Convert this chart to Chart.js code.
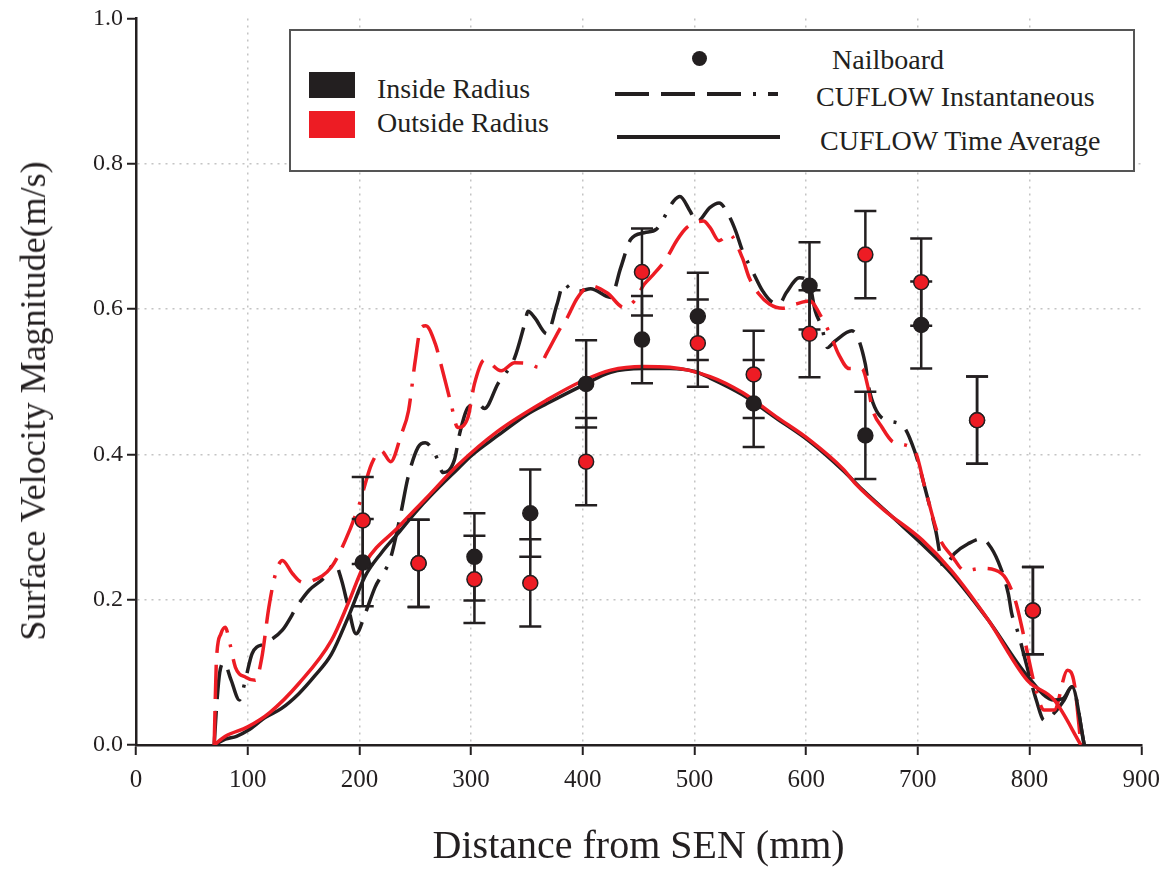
<!DOCTYPE html>
<html>
<head>
<meta charset="utf-8">
<script src="https://cdn.jsdelivr.net/npm/chart.js@4"></script>
<style>
  body { margin: 0; background: #fff; }
  #wrap { position: relative; width: 1170px; height: 873px; }
  #legend {
    position: absolute; left: 289px; top: 29px; width: 842px; height: 139px;
    border: 2px solid #555; background: #fff;
    font-family: "Liberation Serif", "DejaVu Serif", serif; font-size: 28px; color: #231f20;
  }
  #legend .item { position: absolute; white-space: nowrap; line-height: 1; }
  #legend .sw { position: absolute; }
  #ytitle {
    position: absolute; left: 33px; top: 401px; white-space: nowrap; line-height: 1;
    font-family: "Liberation Serif", "DejaVu Serif", serif; font-size: 36px; color: #231f20;
    transform: translate(-50%, -50%) rotate(-90deg);
  }
</style>
</head>
<body>
<div id="wrap">
  <canvas id="chart" width="1170" height="873"></canvas>
  <div id="ytitle">Surface Velocity Magnitude(m/s)</div>
  <div id="legend">
    <div class="sw" style="left:18px;top:41px;width:46px;height:26px;background:#231f20"></div>
    <div class="item" style="left:86px;top:44px">Inside Radius</div>
    <div class="sw" style="left:18px;top:80px;width:46px;height:27px;background:#ed1c24"></div>
    <div class="item" style="left:86px;top:78px">Outside Radius</div>

    <div class="sw" style="left:401px;top:20px;width:15px;height:15px;border-radius:50%;background:#231f20"></div>
    <div class="item" style="left:541px;top:15px">Nailboard</div>
    <svg class="sw" style="left:322px;top:58px" width="170" height="10">
      <line x1="2" y1="5" x2="165" y2="5" stroke="#231f20" stroke-width="4" stroke-dasharray="34 12 34 12 34 12 3 12"/>
    </svg>
    <div class="item" style="left:525px;top:52px">CUFLOW Instantaneous</div>
    <svg class="sw" style="left:324px;top:101px" width="170" height="10">
      <line x1="2" y1="5" x2="165" y2="5" stroke="#231f20" stroke-width="4"/>
    </svg>
    <div class="item" style="left:529px;top:96px">CUFLOW Time Average</div>
  </div>
</div>
<script>
// --- Data --- //
const nailX = [203, 253, 303, 353, 403, 453, 503, 553, 603, 653, 703, 753, 803];
const nailInsideY = [0.251, 0.25, 0.259, 0.319, 0.497, 0.558, 0.59, 0.47, 0.632, 0.426, 0.578, 0.447, 0.185];
const nailOutsideY = [0.309, 0.25, 0.228, 0.223, 0.39, 0.651, 0.553, 0.51, 0.566, 0.675, 0.637, 0.447, 0.185];
const nailInsideErr = [0.06, 0.06, 0.06, 0.06, 0.06, 0.06, 0.06, 0.06, 0.06, 0.06, 0.06, 0.06, 0.06];
const nailOutsideErr = [0.06, 0.06, 0.06, 0.06, 0.06, 0.06, 0.06, 0.06, 0.06, 0.06, 0.06, 0.06, 0.06];

const avgInsideX = [70, 80, 90, 100, 116, 130, 146, 160, 175, 190, 205, 220, 235, 250, 265, 288, 300, 324, 350, 368, 400, 425, 454, 478, 500, 514, 543, 573, 603, 633, 650, 680, 704, 730, 763, 798, 822, 830, 838, 849];
const avgInsideY = [0, 0.008, 0.012, 0.02, 0.038, 0.05, 0.071, 0.095, 0.125, 0.176, 0.232, 0.265, 0.292, 0.32, 0.345, 0.38, 0.398, 0.426, 0.455, 0.47, 0.495, 0.513, 0.518, 0.518, 0.514, 0.505, 0.482, 0.45, 0.418, 0.378, 0.352, 0.31, 0.276, 0.236, 0.172, 0.095, 0.062, 0.064, 0.08, 0];

const avgOutsideX = [70, 80, 100, 120, 146, 175, 190, 205, 235, 260, 288, 324, 368, 401, 425, 454, 478, 514, 543, 573, 603, 633, 644, 670, 704, 730, 763, 798, 822, 846];
const avgOutsideY = [0, 0.012, 0.025, 0.045, 0.085, 0.144, 0.195, 0.25, 0.3, 0.34, 0.385, 0.432, 0.475, 0.502, 0.516, 0.521, 0.52, 0.507, 0.485, 0.452, 0.42, 0.38, 0.36, 0.323, 0.282, 0.24, 0.172, 0.089, 0.062, 0];

const instInsideX = [70, 72, 75, 79, 85, 92.6, 98, 104, 116, 131, 146, 155, 169, 178, 184, 190, 197, 205, 214, 228, 237, 243.5, 252.6, 259, 267.9, 275, 285, 290, 297, 306, 312, 324, 339, 348, 351, 357, 368, 377, 383, 391, 398, 407, 425, 434, 443, 455, 466, 481.5, 487, 496, 502, 514, 522, 531, 537, 543, 552, 561, 570, 576, 582, 594, 603, 608, 614, 619, 626, 641, 653, 656, 668, 686, 697, 707, 716, 723, 733, 745, 757, 763, 772, 781, 784, 789, 801, 806, 813, 822, 831, 838, 849];
const instInsideY = [0, 0.05, 0.1, 0.113, 0.09, 0.062, 0.09, 0.126, 0.14, 0.158, 0.195, 0.213, 0.231, 0.25, 0.227, 0.19, 0.153, 0.18, 0.217, 0.258, 0.318, 0.368, 0.41, 0.416, 0.4, 0.375, 0.392, 0.43, 0.464, 0.47, 0.463, 0.497, 0.533, 0.58, 0.597, 0.588, 0.566, 0.607, 0.635, 0.625, 0.625, 0.628, 0.616, 0.657, 0.696, 0.705, 0.71, 0.749, 0.755, 0.735, 0.72, 0.74, 0.746, 0.728, 0.707, 0.68, 0.652, 0.625, 0.609, 0.607, 0.622, 0.643, 0.634, 0.598, 0.575, 0.547, 0.556, 0.57, 0.524, 0.492, 0.45, 0.44, 0.405, 0.35, 0.295, 0.245, 0.264, 0.277, 0.284, 0.277, 0.252, 0.208, 0.181, 0.158, 0.089, 0.062, 0.034, 0.044, 0.062, 0.08, 0];

const instOutsideX = [70, 72, 76, 80, 84, 89, 98.5, 107, 112.6, 119, 125, 131, 140, 149, 158, 175, 187.5, 199, 211, 219.5, 228, 237.6, 244, 250, 255, 259.5, 268, 273, 282, 288, 297, 303, 312, 327, 339, 354, 360, 368, 380, 386, 395, 407, 422, 437, 446, 455, 463.5, 475, 484, 493, 508, 514, 522, 531, 543, 549, 557.5, 567, 579, 591, 603, 614, 623, 629, 638.5, 650, 656, 659, 668, 678, 697, 707, 719, 731, 742, 757, 775, 787, 795, 805, 813, 822, 834, 840, 846];
const instOutsideY = [0, 0.116, 0.153, 0.162, 0.14, 0.107, 0.093, 0.089, 0.12, 0.19, 0.236, 0.254, 0.236, 0.224, 0.226, 0.245, 0.282, 0.327, 0.387, 0.405, 0.39, 0.428, 0.46, 0.529, 0.574, 0.577, 0.552, 0.524, 0.47, 0.437, 0.45, 0.497, 0.53, 0.515, 0.526, 0.524, 0.52, 0.54, 0.574, 0.588, 0.615, 0.632, 0.622, 0.602, 0.611, 0.634, 0.648, 0.67, 0.694, 0.712, 0.721, 0.712, 0.694, 0.703, 0.67, 0.643, 0.621, 0.607, 0.601, 0.607, 0.611, 0.588, 0.56, 0.538, 0.518, 0.518, 0.488, 0.464, 0.437, 0.417, 0.405, 0.35, 0.286, 0.259, 0.24, 0.243, 0.236, 0.2, 0.149, 0.08, 0.048, 0.048, 0.103, 0.085, 0];

const BLACK = '#231f20';
const RED = '#ed1c24';
const SERIF = '"Liberation Serif", "DejaVu Serif", serif';

const toPoints = (xs, ys) => xs.map((x, i) => ({ x: x, y: ys[i] }));

// error bars drawn just before the first nailboard set, so they sit over the lines but under the dots
const errorBars = {
    id: 'errorBars',
    beforeDatasetDraw(chart, args) {
        const first = chart.data.datasets.findIndex(d => d.errors);
        if (args.index !== first) return;
        const xs = chart.scales.x, ys = chart.scales.y;
        const ctx = chart.ctx;
        ctx.save();
        ctx.strokeStyle = BLACK;
        ctx.lineWidth = 2.5;
        chart.data.datasets.forEach(ds => {
            if (!ds.errors) return;
            ds.data.forEach((p, i) => {
                const px = xs.getPixelForValue(p.x);
                const top = ys.getPixelForValue(p.y + ds.errors[i]);
                const bot = ys.getPixelForValue(p.y - ds.errors[i]);
                ctx.beginPath();
                ctx.moveTo(px, top); ctx.lineTo(px, bot);
                ctx.moveTo(px - 11, top); ctx.lineTo(px + 11, top);
                ctx.moveTo(px - 11, bot); ctx.lineTo(px + 11, bot);
                ctx.stroke();
            });
        });
        ctx.restore();
    }
};

const instDash = [34, 12, 34, 12, 34, 12, 3, 12];

new Chart(document.getElementById('chart'), {
    type: 'line',
    data: {
        datasets: [
            {
                label: 'Inside Instantaneous',
                data: toPoints(instInsideX, instInsideY),
                borderColor: BLACK, borderWidth: 3.5, borderDash: instDash,
                pointRadius: 0, cubicInterpolationMode: 'monotone', order: 5
            },
            {
                label: 'Outside Instantaneous',
                data: toPoints(instOutsideX, instOutsideY),
                borderColor: RED, borderWidth: 3.5, borderDash: instDash,
                pointRadius: 0, cubicInterpolationMode: 'monotone', order: 4
            },
            {
                label: 'Inside Time Average',
                data: toPoints(avgInsideX, avgInsideY),
                borderColor: BLACK, borderWidth: 3.5,
                pointRadius: 0, cubicInterpolationMode: 'monotone', order: 3
            },
            {
                label: 'Outside Time Average',
                data: toPoints(avgOutsideX, avgOutsideY),
                borderColor: RED, borderWidth: 3.5,
                pointRadius: 0, cubicInterpolationMode: 'monotone', order: 2
            },
            {
                label: 'Inside Nailboard',
                data: toPoints(nailX, nailInsideY),
                errors: nailInsideErr,
                showLine: false,
                pointRadius: 7.5, pointBackgroundColor: BLACK, pointBorderColor: BLACK, pointBorderWidth: 1.5,
                order: 1
            },
            {
                label: 'Outside Nailboard',
                data: toPoints(nailX, nailOutsideY),
                errors: nailOutsideErr,
                showLine: false,
                pointRadius: 7.5, pointBackgroundColor: RED, pointBorderColor: BLACK, pointBorderWidth: 1.5,
                order: 0
            }
        ]
    },
    options: {
        responsive: false,
        animation: false,
        layout: { padding: { top: 17, right: 23, left: 0, bottom: 0 } },
        plugins: {
            legend: { display: false },
            tooltip: { enabled: false }
        },
        scales: {
            x: {
                type: 'linear',
                min: 0, max: 900,
                afterFit(scale) { scale.height = 128; },
                ticks: {
                    stepSize: 100, color: BLACK, padding: 10,
                    font: { family: SERIF, size: 25 }
                },
                grid: {
                    color: ctx => (ctx.tick && (ctx.tick.value === 0 || ctx.tick.value === 900)) ? 'rgba(0,0,0,0)' : '#c4c4c4',
                    lineWidth: 1.5,
                    tickColor: BLACK, tickWidth: 2, tickLength: 10, tickBorderDash: []
                },
                border: { color: BLACK, width: 2.5, dash: [2, 5] },
                title: {
                    display: true, text: 'Distance from SEN (mm)', color: BLACK,
                    font: { family: SERIF, size: 40 }, padding: { top: 0, bottom: 2 }
                }
            },
            y: {
                min: 0, max: 1,
                afterFit(scale) { scale.width = 136; },
                ticks: {
                    stepSize: 0.2, color: BLACK, padding: 4,
                    font: { family: SERIF, size: 24 },
                    callback: v => v.toFixed(1)
                },
                grid: {
                    color: ctx => (ctx.tick && (ctx.tick.value === 0 || ctx.tick.value === 1)) ? 'rgba(0,0,0,0)' : '#c4c4c4',
                    lineWidth: 1.5,
                    tickColor: BLACK, tickWidth: 2, tickLength: 9, tickBorderDash: []
                },
                border: { color: BLACK, width: 2.5, dash: [2, 5] },
                title: { display: false }
            }
        }
    },
    plugins: [errorBars]
});
</script>
</body>
</html>
